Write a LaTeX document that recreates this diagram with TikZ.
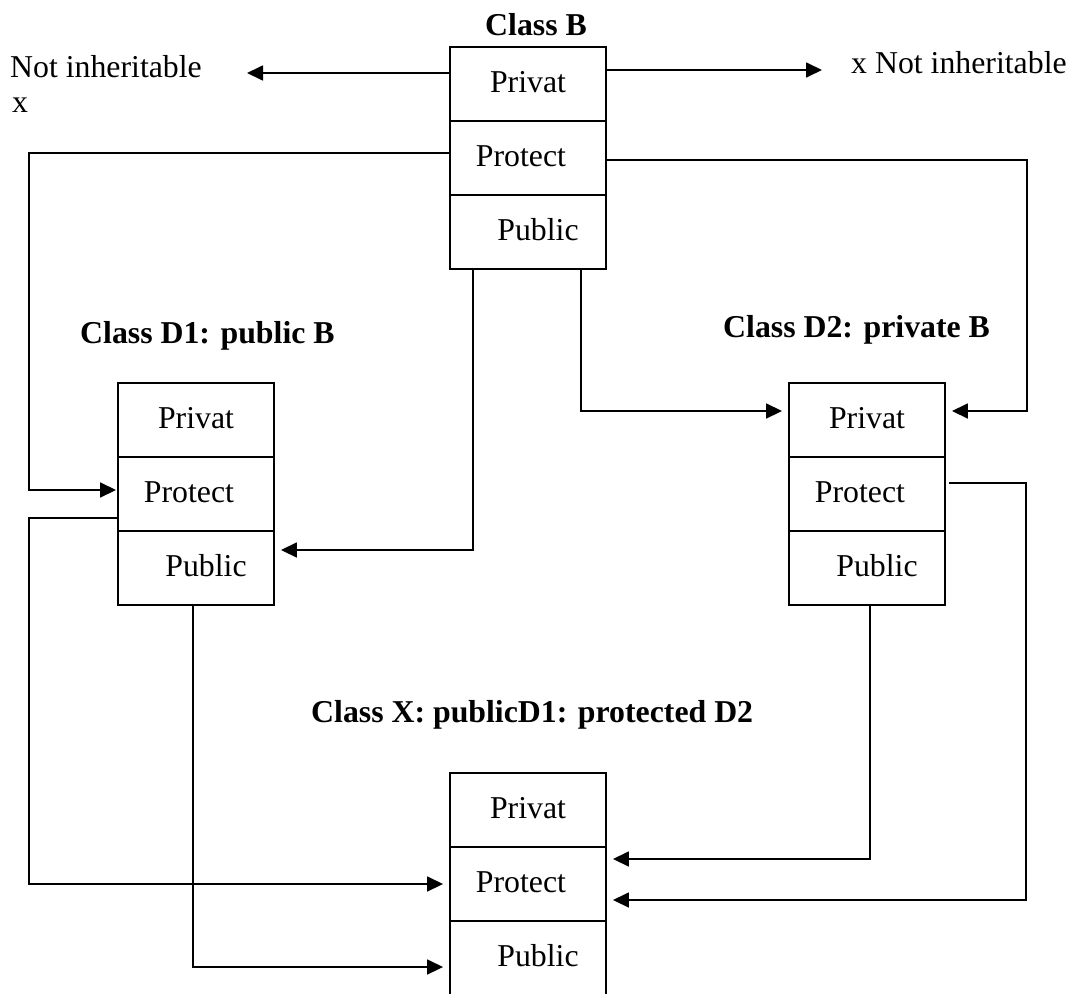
\documentclass[tikz,border=0pt]{standalone}
\usepackage{fontspec}
\setmainfont{Liberation Serif}
\usetikzlibrary{arrows.meta}
\begin{document}
\begin{tikzpicture}[x=1pt,y=-1pt,
  cell/.style={draw, line width=1.9pt, minimum width=156pt, minimum height=74pt,
    inner sep=0pt, text height=22pt, text depth=6pt,
    font=\fontsize{31.8}{36}\selectfont},
  heading/.style={font=\fontsize{31.8}{36}\selectfont\bfseries, inner sep=0pt, anchor=base west},
  note/.style={font=\fontsize{31.8}{36}\selectfont, inner sep=0pt, anchor=base west},
  conn/.style={line width=1.7pt},
  arr/.style={conn, -{Triangle[length=16pt,width=15pt]}, shorten >=6pt},
]
\useasboundingbox (0,0) rectangle (1083,993);

% base class
\node[cell] (BPriv) at (528,84)  {Privat};
\node[cell] (BProt) at (528,158) {Protect\hspace*{14pt}};
\node[cell] (BPub)  at (528,232) {\hspace*{20pt}Public};
\node[heading, anchor=base] (tB) at (536,35) {Class B};

% D1 : public B
\node[cell] (D1Priv) at (196,420) {Privat};
\node[cell] (D1Prot) at (196,494) {Protect\hspace*{14pt}};
\node[cell] (D1Pub)  at (196,568) {\hspace*{20pt}Public};
\node[heading] (tD1) at (80,343) {Class D1: public B};

% D2 : private B
\node[cell] (D2Priv) at (867,420) {Privat};
\node[cell] (D2Prot) at (867,494) {Protect\hspace*{14pt}};
\node[cell] (D2Pub)  at (867,568) {\hspace*{20pt}Public};
\node[heading] (tD2) at (723,337) {Class D2: private B};

% X : public D1, protected D2
\node[cell] (XPriv) at (528,810) {Privat};
\node[cell] (XProt) at (528,884) {Protect\hspace*{14pt}};
\node[cell] (XPub)  at (528,958) {\hspace*{20pt}Public};
\node[heading] (tX) at (311,722) {Class X: publicD1: protected D2};

% private members are not inherited
\node[note] (nl) at (10,77) {Not inheritable};
\node[note] (nlx) at (12,112) {x};
\node[note] (nr) at (851,73) {x Not inheritable};
\coordinate (pl) at (247,73);
\coordinate (pr) at (822,70);
\draw[arr, shorten >=0pt] (BPriv.west |- pl) -- (pl);
\draw[arr, shorten >=0pt] (BPriv.east |- pr) -- (pr);

% B -> D1
\coordinate (k1a) at (29,153);
\coordinate (k1b) at (29,490);
\draw[arr, shorten >=1pt] (BProt.west |- k1a) -- (k1a) -- (k1b) -- (D1Prot.west |- k1b);
\coordinate (k3) at (473,550);
\draw[arr] (BPub.south -| k3) -- (k3) -- (D1Pub.east |- k3);

% B -> D2
\coordinate (k2a) at (1027,160);
\coordinate (k2b) at (1027,411);
\draw[arr] (BProt.east |- k2a) -- (k2a) -- (k2b) -- (D2Priv.east |- k2b);
\coordinate (k4) at (581,411);
\draw[arr] (BPub.south -| k4) -- (k4) -- (D2Priv.west |- k4);

% D1 -> X
\coordinate (k5a) at (29,518);
\coordinate (k5b) at (29,884);
\draw[arr] (D1Prot.west |- k5a) -- (k5a) -- (k5b) -- (XProt.west |- k5b);
\coordinate (k6) at (193,967);
\draw[arr] (D1Pub.south -| k6) -- (k6) -- (XPub.west |- k6);

% D2 -> X
\coordinate (k7a) at (1026,483);
\coordinate (k7b) at (1026,900);
\draw[arr] ([xshift=3pt]D2Prot.east |- k7a) -- (k7a) -- (k7b) -- (XProt.east |- k7b);
\coordinate (k8) at (870,859);
\draw[arr] (D2Pub.south -| k8) -- (k8) -- (XProt.east |- k8);
\end{tikzpicture}
\end{document}
